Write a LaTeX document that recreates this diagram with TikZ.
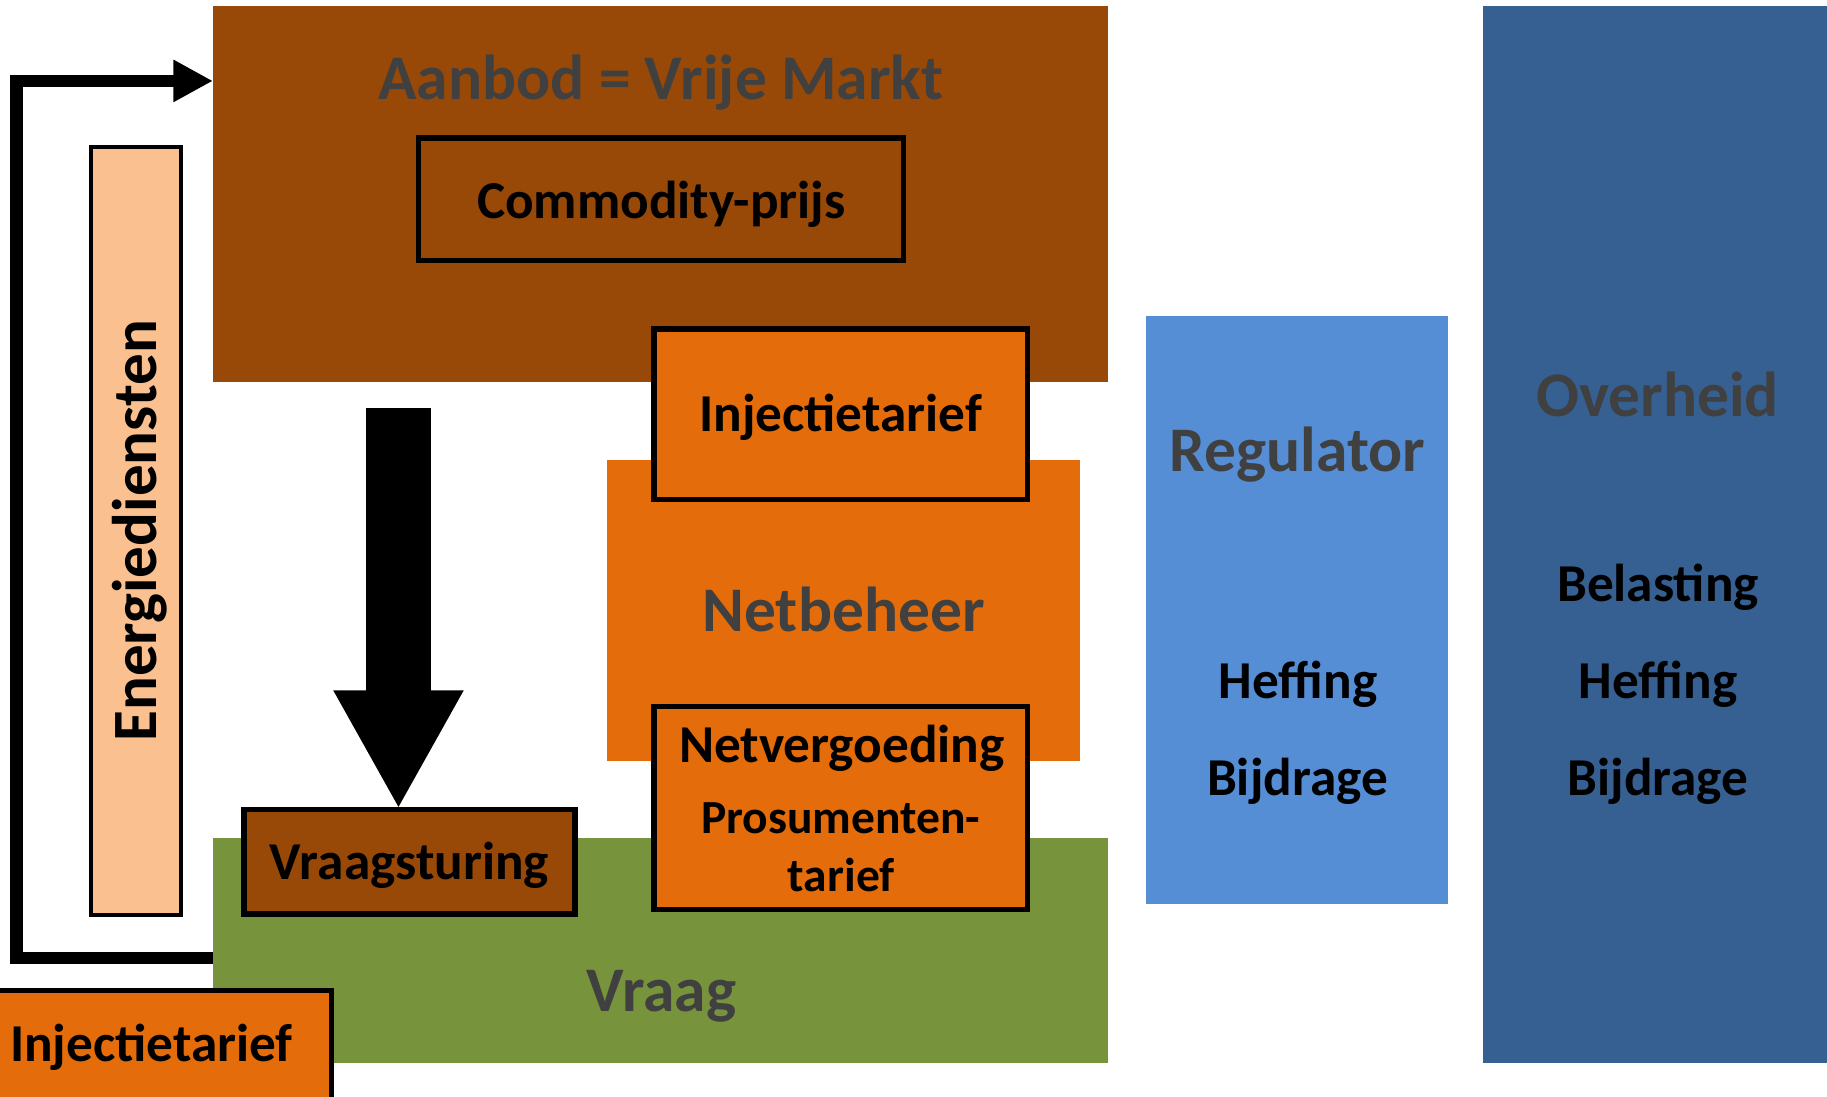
\documentclass[tikz,border=0pt]{standalone}
\usepackage{fontspec}
\setmainfont{Carlito}
\usetikzlibrary{arrows.meta}
\definecolor{aanbodbrown}{HTML}{984807}
\definecolor{netorange}{HTML}{E46C0A}
\definecolor{vraaggreen}{HTML}{77933C}
\definecolor{regblue}{HTML}{558ED5}
\definecolor{ovblue}{HTML}{376092}
\definecolor{peach}{HTML}{FAC090}
\definecolor{titlegray}{HTML}{404040}
\newcommand\lblfont{\fontsize{13}{15}\selectfont\bfseries}
\newcommand\smlfont{\fontsize{11.6}{14}\selectfont\bfseries}
\newcommand\ttlfont{\fontsize{15.5}{18}\selectfont\bfseries}
\tikzset{
  panel/.style={inner sep=0pt, outer sep=0pt},
  tagbox/.style={draw=black, line width=1.3pt, inner sep=0pt, outer sep=0pt},
  ttl/.style={text=titlegray, font=\ttlfont, anchor=base, inner sep=0pt},
  tag/.style={font=\lblfont, anchor=base, inner sep=0pt},
  looparrow/.style={line width=3pt, -{Triangle[length=0.34cm, width=0.34cm]}},
  droparrow/.style={line width=0.56cm, -{Triangle[length=1.02cm, width=1.04cm]}}
}

\begin{document}
\begin{tikzpicture}[x=0.01cm, y=-0.01cm]
	%%%%% START %%%%%
	\useasboundingbox (0,0) rectangle (1568,941);
	
	\node[panel, fill=aanbodbrown, minimum width=7.68cm, minimum height=3.23cm] (aanbod) at (567,166.5) {};
	\node[panel, fill=netorange, minimum width=4.06cm, minimum height=2.58cm] (netbeheer) at (724,524) {};
	\node[panel, fill=vraaggreen, minimum width=7.68cm, minimum height=1.93cm] (vraag) at (567,815.5) {};
	
	\node[ttl] (aanbodtxt) at (567,85.8) {Aanbod = Vrije Markt};
	\node[ttl] (netbeheertxt) at (724,541.7) {Netbeheer};
	\node[ttl] (vraagtxt) at (567.5,868) {Vraag};
	
	\node[tagbox, fill=aanbodbrown, minimum width=4.16cm, minimum height=1.05cm] (commodity) at (567.5,171) {};
	\node[tag] (commoditytxt) at (567.5,187.4) {Commodity-prijs};
	
	\node[tagbox, fill=netorange, minimum width=3.20cm, minimum height=1.46cm] (injectie) at (721.5,355.5) {};
	\node[tag] (injectietxt) at (721.5,370) {Injectietarief};
	
	\node[tagbox, fill=netorange, minimum width=3.20cm, minimum height=1.74cm] (netverg) at (721.5,693.5) {};
	\node[tag] (netvergtxt) at (722.5,654.4) {Netvergoeding};
	\node[tag, font=\smlfont] (prosumtxt) at (721.5,715.5) {Prosumenten-};
	\node[tag, font=\smlfont] (tarieftxt) at (722,764.8) {tarief};
	
	\node[tagbox, fill=aanbodbrown, minimum width=2.84cm, minimum height=0.90cm] (vraagst) at (351.5,739.5) {};
	\node[tag] (vraagsttxt) at (351.5,755) {Vraagsturing};
	
	\node[tagbox, line width=1pt, fill=peach, minimum width=0.77cm, minimum height=6.59cm] (energie) at (116.5,455.5) {};
	\node[tag, font=\fontsize{15.4}{18}\selectfont\bfseries, rotate=90] (energietxt) at (134.5,455.6) {Energiediensten};
	
	\draw[looparrow] ([yshift=-0.065cm]vraag.west) -- ++(-168.5,0) |- ([yshift=0.97cm]aanbod.west);
	
	\coordinate (dropstart) at (342,350);
	\draw[droparrow] (dropstart) -- (dropstart |- vraagst.north);
	
	\node[tagbox, fill=netorange, minimum width=3.047cm, minimum height=1.097cm] (injectieb) at (132.35,905.15) {};
	\node[tag, anchor=base west] (injectiebtxt) at (8,911) {Injectietarief};
	
	\node[panel, fill=regblue, minimum width=2.59cm, minimum height=5.05cm] (regulator) at (1113.5,523.5) {};
	\node[ttl] (regulatortxt) at (1113.5,405) {Regulator};
	\node[tag] (regheffing) at (1114,599.4) {Heffing};
	\node[tag] (regbijdrage) at (1113.5,682.4) {Bijdrage};
	
	\node[panel, fill=ovblue, minimum width=3.02cm, minimum height=9.07cm] (overheid) at (1424,458.5) {};
	\node[ttl] (overheidtxt) at (1422.5,357.7) {Overheid};
	\node[tag] (ovbelasting) at (1423,516.5) {Belasting};
	\node[tag] (ovheffing) at (1423,599.4) {Heffing};
	\node[tag] (ovbijdrage) at (1423,682.4) {Bijdrage};
	
	%%%%% END %%%%%
\end{tikzpicture}
\end{document}
